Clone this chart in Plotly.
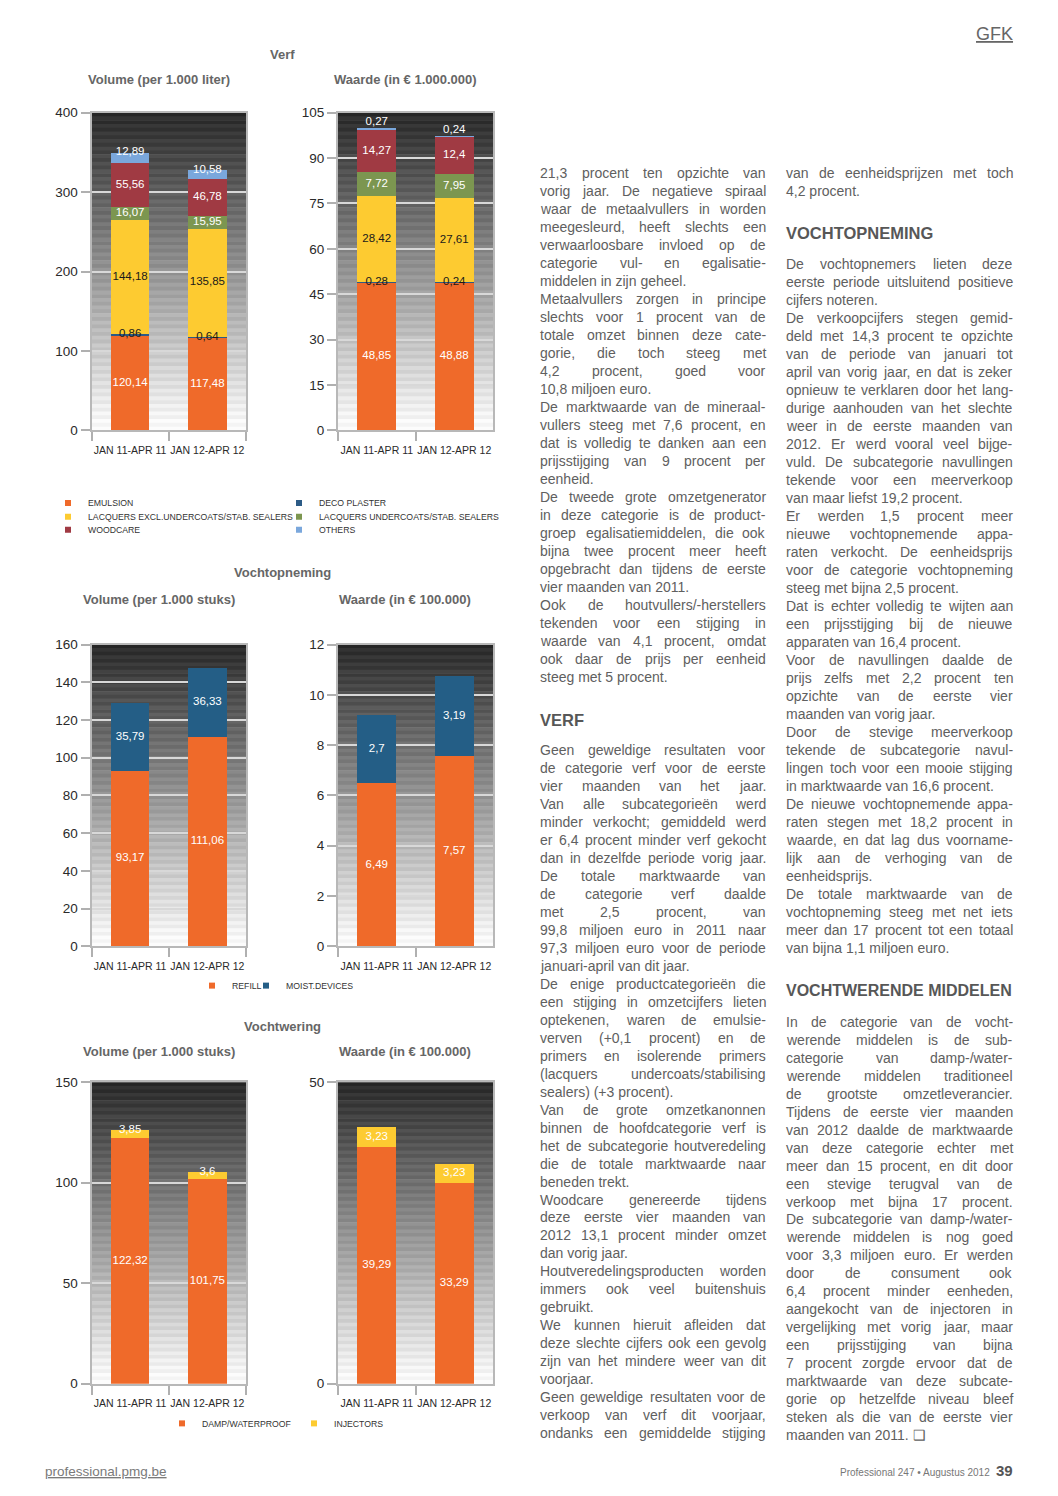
import plotly.graph_objects as go
import numpy as np

# The page adds an 8px margin around the figure; vertically the photographed page is also
# slightly compressed, so page positions are mapped into figure coordinates below.
PAGE_W, PAGE_H = 1058, 1496
OFF_X = 8
TOP_Y = 15.0
S_Y = 0.9904
W, H = PAGE_W - 2 * OFF_X, 1480

# ---------------- data ----------------
periods = ["JAN 11-APR 11", "JAN 12-APR 12"]

verf_series = ["EMULSION", "DECO PLASTER", "LACQUERS EXCL.UNDERCOATS/STAB. SEALERS",
               "LACQUERS UNDERCOATS/STAB. SEALERS", "WOODCARE", "OTHERS"]
verf_volume_emulsion = [120.14, 117.48]
verf_volume_deco_plaster = [0.86, 0.64]
verf_volume_lacquers_excl = [144.18, 135.85]
verf_volume_lacquers_undercoats = [16.07, 15.95]
verf_volume_woodcare = [55.56, 46.78]
verf_volume_others = [12.89, 10.58]

verf_value_emulsion = [48.85, 48.88]
verf_value_deco_plaster = [0.28, 0.24]
verf_value_lacquers_excl = [28.42, 27.61]
verf_value_lacquers_undercoats = [7.72, 7.95]
verf_value_woodcare = [14.27, 12.4]
verf_value_others = [0.27, 0.24]

vocht_series = ["REFILL", "MOIST.DEVICES"]
vocht_volume_refill = [93.17, 111.06]
vocht_volume_moist_devices = [35.79, 36.33]
vocht_value_refill = [6.49, 7.57]
vocht_value_moist_devices = [2.7, 3.19]

werend_series = ["DAMP/WATERPROOF", "INJECTORS"]
werend_volume_damp = [122.32, 101.75]
werend_volume_injectors = [3.85, 3.6]
werend_value_damp = [39.29, 33.29]
werend_value_injectors = [3.23, 3.23]

verf_volume_ticks = [0, 100, 200, 300, 400]
verf_value_ticks = [0, 15, 30, 45, 60, 75, 90, 105]
vocht_volume_ticks = [0, 20, 40, 60, 80, 100, 120, 140, 160]
vocht_value_ticks = [0, 2, 4, 6, 8, 10, 12]
werend_volume_ticks = [0, 50, 100, 150]
werend_value_ticks = [0, 50]

# ---------------- article text ----------------
col1_part1 = [
    ["21,3 procent ten opzichte van", "vorig jaar. De negatieve spiraal", "waar de metaalvullers in worden",
     "meegesleurd, heeft slechts een", "verwaarloosbare invloed op de", "categorie vul- en egalisatie-",
     "middelen in zijn geheel."],
    ["Metaalvullers zorgen in principe", "slechts voor 1 procent van de", "totale omzet binnen deze cate-",
     "gorie, die toch steeg met", "4,2 procent, goed voor", "10,8 miljoen euro."],
    ["De marktwaarde van de mineraal-", "vullers steeg met 7,6 procent, en", "dat is volledig te danken aan een",
     "prijsstijging van 9 procent per", "eenheid."],
    ["De tweede grote omzetgenerator", "in deze categorie is de product-", "groep egalisatiemiddelen, die ook",
     "bijna twee procent meer heeft", "opgebracht dan tijdens de eerste", "vier maanden van 2011."],
    ["Ook de houtvullers/-herstellers", "tekenden voor een stijging in", "waarde van 4,1 procent, omdat",
     "ook daar de prijs per eenheid", "steeg met 5 procent."],
]
col1_part2 = [
    ["Geen geweldige resultaten voor", "de categorie verf voor de eerste", "vier maanden van het jaar.",
     "Van alle subcategorieën werd", "minder verkocht; gemiddeld werd", "er 6,4 procent minder verf gekocht",
     "dan in dezelfde periode vorig jaar.", "De totale marktwaarde van", "de categorie verf daalde",
     "met 2,5 procent, van", "99,8 miljoen euro in 2011 naar", "97,3 miljoen euro voor de periode",
     "januari-april van dit jaar."],
    ["De enige productcategorieën die", "een stijging in omzetcijfers lieten", "optekenen, waren de emulsie-",
     "verven (+0,1 procent) en de", "primers en isolerende primers", "(lacquers undercoats/stabilising",
     "sealers) (+3 procent)."],
    ["Van de grote omzetkanonnen", "binnen de hoofdcategorie verf is", "het de subcategorie houtveredeling",
     "die de totale marktwaarde naar", "beneden trekt."],
    ["Woodcare genereerde tijdens", "deze eerste vier maanden van", "2012 13,1 procent minder omzet",
     "dan vorig jaar."],
    ["Houtveredelingsproducten worden", "immers ook veel buitenshuis", "gebruikt."],
    ["We kunnen hieruit afleiden dat", "deze slechte cijfers ook een gevolg", "zijn van het mindere weer van dit",
     "voorjaar."],
    ["Geen geweldige resultaten voor de", "verkoop van verf dit voorjaar,", "ondanks een gemiddelde stijging", ""],
]
col2_part1 = [["van de eenheidsprijzen met toch", "4,2 procent."]]
col2_part2 = [
    ["De vochtopnemers lieten deze", "eerste periode uitsluitend positieve", "cijfers noteren."],
    ["De verkoopcijfers stegen gemid-", "deld met 14,3 procent te opzichte", "van de periode van januari tot",
     "april van vorig jaar, en dat is zeker", "opnieuw te verklaren door het lang-",
     "durige aanhouden van het slechte", "weer in de eerste maanden van", "2012. Er werd vooral veel bijge-",
     "vuld. De subcategorie navullingen", "tekende voor een meerverkoop", "van maar liefst 19,2 procent."],
    ["Er werden 1,5 procent meer", "nieuwe vochtopnemende appa-", "raten verkocht. De eenheidsprijs",
     "voor de categorie vochtopneming", "steeg met bijna 2,5 procent."],
    ["Dat is echter volledig te wijten aan", "een prijsstijging bij de nieuwe", "apparaten van 16,4 procent."],
    ["Voor de navullingen daalde de", "prijs zelfs met 2,2 procent ten", "opzichte van de eerste vier",
     "maanden van vorig jaar."],
    ["Door de stevige meerverkoop", "tekende de subcategorie navul-", "lingen toch voor een mooie stijging",
     "in marktwaarde van 16,6 procent."],
    ["De nieuwe vochtopnemende appa-", "raten stegen met 18,2 procent in", "waarde, en dat lag dus voorname-",
     "lijk aan de verhoging van de", "eenheidsprijs."],
    ["De totale marktwaarde van de", "vochtopneming steeg met net iets", "meer dan 17 procent tot een totaal",
     "van bijna 1,1 miljoen euro."],
]
col2_part3 = [
    ["In de categorie van de vocht-", "werende middelen is de sub-", "categorie van damp-/water-",
     "werende middelen traditioneel", "de grootste omzetleverancier.", "Tijdens de eerste vier maanden",
     "van 2012 daalde de marktwaarde", "van deze categorie echter met", "meer dan 15 procent, en dit door",
     "een stevige terugval van de", "verkoop met bijna 17 procent.", "De subcategorie van damp-/water-",
     "werende middelen is nog goed", "voor 3,3 miljoen euro. Er werden", "door de consument ook",
     "6,4 procent minder eenheden,", "aangekocht van de injectoren in", "vergelijking met vorig jaar, maar",
     "een prijsstijging van bijna", "7 procent zorgde ervoor dat de", "marktwaarde van deze subcate-",
     "gorie op hetzelfde niveau bleef", "steken als die van de eerste vier", "maanden van 2011. \u2751"],
]

# ---------------- style ----------------
BODY = "Liberation Sans, Arial, sans-serif"
BODY_COLOR = "#606060"
C_ORANGE = "#EF6A2A"
C_YELLOW = "#FDCB31"
C_RED = "#A03A43"
C_NAVY = "#2C5B86"
C_GREEN = "#7C9650"
C_LBLUE = "#7AA7DC"
C_TEAL = "#245E86"
DARK = "#1a1a1a"


def px(x):
    return (x - OFF_X) / W


def py(y):
    return 1 - (y / S_Y - TOP_Y) / H


LEFT_X = (91.5, 246)
RIGHT_X = (338, 493)
ROW1 = (112.5, 430.5)
ROW2 = (644.7, 946.7)
ROW3 = (1082.7, 1384.3)

panels = [
    dict(series=verf_series,
         values=[verf_volume_emulsion, verf_volume_deco_plaster, verf_volume_lacquers_excl,
                 verf_volume_lacquers_undercoats, verf_volume_woodcare, verf_volume_others],
         colors=[C_ORANGE, C_NAVY, C_YELLOW, C_GREEN, C_RED, C_LBLUE],
         lcolors=["white", DARK, DARK, "white", "white", "white"],
         lpos=["mid", "mid", "mid", "mid", "mid", "top"],
         ticks=verf_volume_ticks, xd=LEFT_X, yd=ROW1,
         legend_pos=[(48, 503), (279, 503), (48, 517), (279, 517), (48, 530), (279, 530)]),
    dict(series=verf_series,
         values=[verf_value_emulsion, verf_value_deco_plaster, verf_value_lacquers_excl,
                 verf_value_lacquers_undercoats, verf_value_woodcare, verf_value_others],
         colors=[C_ORANGE, C_NAVY, C_YELLOW, C_GREEN, C_RED, C_LBLUE],
         lcolors=["white", DARK, DARK, "white", "white", "white"],
         lpos=["mid", "mid", "mid", "mid", "mid", "above"],
         ticks=verf_value_ticks, xd=RIGHT_X, yd=ROW1, legend_pos=None),
    dict(series=vocht_series, values=[vocht_volume_refill, vocht_volume_moist_devices],
         colors=[C_ORANGE, C_TEAL], lcolors=["white", "white"], lpos=["mid", "mid"],
         ticks=vocht_volume_ticks, xd=LEFT_X, yd=ROW2, legend_pos=[(192, 986), (246, 986)]),
    dict(series=vocht_series, values=[vocht_value_refill, vocht_value_moist_devices],
         colors=[C_ORANGE, C_TEAL], lcolors=["white", "white"], lpos=["mid", "mid"],
         ticks=vocht_value_ticks, xd=RIGHT_X, yd=ROW2, legend_pos=None),
    dict(series=werend_series, values=[werend_volume_damp, werend_volume_injectors],
         colors=[C_ORANGE, C_YELLOW], lcolors=["white", "white"], lpos=["mid", "top"],
         ticks=werend_volume_ticks, xd=LEFT_X, yd=ROW3, legend_pos=[(162, 1424), (294, 1424)]),
    dict(series=werend_series, values=[werend_value_damp, werend_value_injectors],
         colors=[C_ORANGE, C_YELLOW], lcolors=["white", "white"], lpos=["mid", "mid"],
         ticks=werend_value_ticks, xd=RIGHT_X, yd=ROW3, legend_pos=None),
]


def fmt(v):
    s = f"{v:.2f}".rstrip("0").rstrip(".")
    return s.replace(".", ",")


def legend_cfg(xpx, ypx):
    return dict(orientation="h", x=px(xpx), y=py(ypx), xanchor="left", yanchor="middle",
                bgcolor="rgba(0,0,0,0)", borderwidth=0, itemwidth=30, traceorder="normal",
                font=dict(family=BODY, size=8.7, color="#333333"), itemclick=False, itemdoubleclick=False)


fig = go.Figure()
layout_extra = {}
shapes = []
NB = 84
legend_count = 0

for k, p in enumerate(panels):
    sx = "" if k == 0 else str(k + 1)
    xa, ya = "x" + sx, "y" + sx
    vals = np.array(p["values"], dtype=float)
    cum = np.cumsum(vals, axis=0)
    base = cum - vals
    for i, name in enumerate(p["series"]):
        fig.add_trace(go.Bar(x=periods, y=p["values"][i], name=name,
                             marker=dict(color=p["colors"][i], line=dict(width=0)),
                             xaxis=xa, yaxis=ya, showlegend=False, hoverinfo="skip"))
    for i, name in enumerate(p["series"]):
        mode = p["lpos"][i]
        if mode == "mid":
            ys, tp = base[i] + vals[i] / 2, "middle center"
        elif mode == "top":
            ys, tp = cum[i], "middle center"
        else:
            ys, tp = cum[i], "top center"
        fig.add_trace(go.Scatter(x=periods, y=ys, mode="text", text=[fmt(v) for v in p["values"][i]],
                                 textposition=tp, cliponaxis=False,
                                 textfont=dict(family=BODY, size=11.5, color=p["lcolors"][i]),
                                 xaxis=xa, yaxis=ya, showlegend=False, hoverinfo="skip"))
    if p["legend_pos"]:
        for i, name in enumerate(p["series"]):
            legend_count += 1
            lname = "legend" if legend_count == 1 else f"legend{legend_count}"
            layout_extra[lname] = legend_cfg(*p["legend_pos"][i])
            fig.add_trace(go.Scatter(x=[None], y=[None], mode="markers", name=name,
                                     marker=dict(symbol="square", size=6, color=p["colors"][i]),
                                     xaxis=xa, yaxis=ya, legend=lname, hoverinfo="skip"))
    layout_extra["xaxis" + sx] = dict(
        domain=[px(p["xd"][0]), px(p["xd"][1])], anchor=ya, type="category",
        categoryorder="array", categoryarray=periods, range=[-0.5, 1.5],
        showline=True, linecolor="#b8b8b8", linewidth=2, mirror=True,
        ticks="outside", tickson="boundaries", ticklen=9, tickwidth=1.5, tickcolor="#b0b0b0",
        ticklabelstandoff=9, tickangle=0, showgrid=False,
        tickfont=dict(family=BODY, size=10.5, color="#2a2a2a"), fixedrange=True)
    layout_extra["yaxis" + sx] = dict(
        domain=[py(p["yd"][1]), py(p["yd"][0])], anchor=xa, range=[0, p["ticks"][-1]],
        tickmode="array", tickvals=p["ticks"], showline=True, linecolor="#b8b8b8", linewidth=2, mirror=True,
        ticks="outside", ticklen=9, tickwidth=1.5, tickcolor="#b0b0b0",
        showgrid=True, gridcolor="#d8d8d8", gridwidth=1.5, zeroline=False,
        tickfont=dict(family=BODY, size=13.5, color="#2a2a2a"), fixedrange=True)
    for b in range(NB):
        t = (b + 0.5) / NB
        g = int(36 + 212 * t)
        if b % 2:
            g = min(252, g + 12)
        shapes.append(dict(type="rect", xref=xa + " domain", yref=ya + " domain", x0=0, x1=1,
                           y0=1 - (b + 1) / NB - 0.002, y1=1 - b / NB,
                           fillcolor=f"rgb({g},{g},{g})", line=dict(width=0), layer="below"))

# ---------------- text annotations ----------------
AW = {' ': 278, '(': 333, ')': 333, '+': 584, ',': 278, '-': 333, '.': 278, '/': 278, ':': 278, ';': 278,
      'A': 667, 'B': 667, 'C': 722, 'D': 722, 'E': 667, 'F': 611, 'G': 778, 'H': 722, 'I': 278, 'J': 500,
      'K': 667, 'L': 556, 'M': 833, 'N': 722, 'O': 778, 'P': 667, 'Q': 778, 'R': 722, 'S': 667, 'T': 611,
      'U': 722, 'V': 667, 'W': 944, 'X': 667, 'Y': 667, 'Z': 611,
      'a': 556, 'b': 556, 'c': 500, 'd': 556, 'e': 556, 'f': 278, 'g': 556, 'h': 556, 'i': 222, 'j': 222,
      'k': 500, 'l': 222, 'm': 833, 'n': 556, 'o': 556, 'p': 556, 'q': 556, 'r': 333, 's': 500, 't': 278,
      'u': 556, 'v': 500, 'w': 722, 'x': 500, 'y': 500, 'z': 500, '\u00eb': 556, '\u00e9': 556}
BODY_SIZE = 14
LINE = 18


def tw(s, size=BODY_SIZE):
    return sum(AW.get(c, 556) for c in s) / 1000 * size


annotations = []


def add_text(x, y, text, anchor="left", size=BODY_SIZE, color=BODY_COLOR, family=BODY, **kw):
    annotations.append(dict(x=px(x), y=py(y), xref="paper", yref="paper", text=text, showarrow=False,
                            xanchor=anchor, yanchor="middle", borderpad=0, borderwidth=0,
                            font=dict(family=family, size=size, color=color, **kw)))


def add_block(paragraphs, x0, x1, y0):
    y = y0
    for para in paragraphs:
        for j, line in enumerate(para):
            if line == "":
                continue
            last = (j == len(para) - 1)
            words = line.split(" ")
            if last or len(words) == 1:
                add_text(x0, y, line)
            else:
                total = sum(tw(w) for w in words)
                gap = (x1 - x0 - total) / (len(words) - 1)
                xx = x0
                for n, w in enumerate(words):
                    if n == len(words) - 1:
                        add_text(x1, y, w, anchor="right")
                    else:
                        add_text(xx, y, w)
                    xx += tw(w) + gap
            y += LINE


C1 = (540, 766)
C2 = (786, 1013)
add_block(col1_part1, C1[0], C1[1], 173)
add_block(col1_part2, C1[0], C1[1], 750)
add_block(col2_part1, C2[0], C2[1], 173)
add_block(col2_part2, C2[0], C2[1], 264)
add_block(col2_part3, C2[0], C2[1], 1022)

HEAD_COLOR = "#575757"
add_text(540, 720, "<b>VERF</b>", size=16.5, color=HEAD_COLOR)
add_text(786, 233, "<b>VOCHTOPNEMING</b>", size=16.5, color=HEAD_COLOR)
add_text(786, 991, "<b>VOCHTWERENDE MIDDELEN</b>", size=16, color=HEAD_COLOR)

TITLE_COLOR = "#666666"
chart_titles = [
    (282, 54, "Verf"), (159, 79, "Volume (per 1.000 liter)"), (405, 79, "Waarde (in \u20ac 1.000.000)"),
    (282, 573, "Vochtopneming"), (159, 600, "Volume (per 1.000 stuks)"), (405, 600, "Waarde (in \u20ac 100.000)"),
    (282, 1027, "Vochtwering"), (159, 1052, "Volume (per 1.000 stuks)"), (405, 1052, "Waarde (in \u20ac 100.000)"),
]
for (x, y, t) in chart_titles:
    add_text(x, y, "<b>" + t + "</b>", anchor="center", size=13, color=TITLE_COLOR)

add_text(1013, 34, "GFK", anchor="right", size=18, color="#666666", lineposition="under")
add_text(45, 1472, "professional.pmg.be", size=13.5, color="#7a7a7a", lineposition="under")
add_text(990, 1473, "Professional 247 \u2022 Augustus 2012", anchor="right", size=10, color="#777777")
add_text(1013, 1471, "<b>39</b>", anchor="right", size=15, color="#555555")

fig.update_layout(
    width=W, height=H, margin=dict(l=0, r=0, t=0, b=0),
    paper_bgcolor="white", plot_bgcolor="white",
    barmode="stack", bargap=0.5,
    shapes=shapes, annotations=annotations,
    **layout_extra,
)

fig.write_html("out.html")
